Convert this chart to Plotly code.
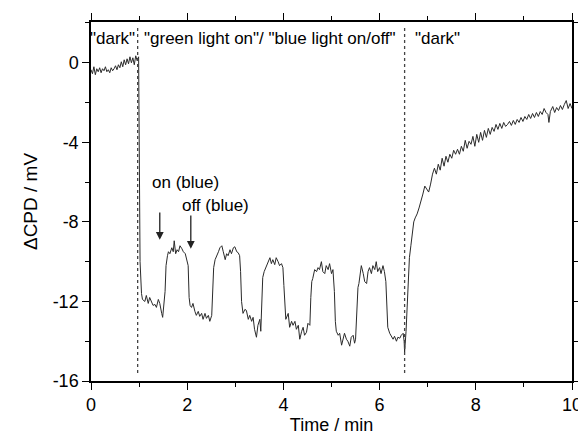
import plotly.graph_objects as go

# ---- data ----
time_dark1 = [0.00, 0.03, 0.06, 0.09, 0.12, 0.15, 0.18, 0.21, 0.24, 0.27, 0.30, 0.33, 0.36, 0.39, 0.42, 0.45,
              0.48, 0.51, 0.54, 0.57, 0.60, 0.63, 0.66, 0.69, 0.72, 0.75, 0.78, 0.81, 0.84, 0.87, 0.90, 0.93,
              0.96, 0.99]
cpd_dark1 = [-0.35, -0.55, -0.2, -0.6, -0.3, -0.45, -0.25, -0.5, -0.3, -0.4, -0.2, -0.45, -0.35, -0.5, -0.25, -0.4,
             -0.3, -0.15, -0.35, -0.1, -0.25, 0.05, -0.2, 0.15, -0.1, 0.2, -0.05, 0.3, 0.0, 0.25, -0.1, 0.35,
             0.1, 0.3]

time_light = [1.02, 1.035, 1.05, 1.07, 1.12, 1.15, 1.19, 1.22, 1.26, 1.29, 1.33, 1.36, 1.40, 1.43, 1.47, 1.49,
              1.54, 1.56, 1.59, 1.61, 1.64, 1.68, 1.71, 1.73, 1.76, 1.79, 1.82, 1.85, 1.89, 1.92, 1.96, 1.99,
              2.02, 2.04, 2.06, 2.09, 2.12, 2.16, 2.19, 2.23, 2.26, 2.30, 2.33, 2.37, 2.40, 2.44, 2.47, 2.51,
              2.53, 2.55, 2.58, 2.61, 2.65, 2.68, 2.72, 2.75, 2.79, 2.82, 2.85, 2.89, 2.92, 2.96, 2.99, 3.03,
              3.06, 3.09, 3.11, 3.13, 3.15, 3.16, 3.20, 3.23, 3.27, 3.30, 3.34, 3.37, 3.40, 3.44, 3.47, 3.51,
              3.53, 3.55, 3.57, 3.60, 3.65, 3.68, 3.72, 3.75, 3.78, 3.82, 3.85, 3.89, 3.92, 3.96, 3.99,
              4.01, 4.03, 4.05, 4.10, 4.13, 4.17, 4.20, 4.24, 4.27, 4.31, 4.34, 4.38, 4.41, 4.44, 4.48, 4.51,
              4.55, 4.57, 4.59, 4.61, 4.65, 4.69, 4.72, 4.75, 4.79, 4.82, 4.86, 4.89, 4.93, 4.96, 5.00, 5.03,
              5.06, 5.08, 5.10, 5.14, 5.17, 5.21, 5.24, 5.27, 5.31, 5.34, 5.38, 5.41, 5.45, 5.48, 5.50,
              5.53, 5.55, 5.57, 5.62, 5.66, 5.69, 5.73, 5.76, 5.79, 5.83, 5.86, 5.90, 5.93, 5.96, 6.00, 6.03,
              6.07, 6.10, 6.13, 6.15, 6.17, 6.21, 6.25, 6.28, 6.31, 6.35, 6.38, 6.42, 6.45, 6.49, 6.51, 6.52]
cpd_light = [-10.0, -11.0, -11.6, -11.9, -12.0, -11.7, -12.1, -11.8, -12.0, -12.2, -12.15, -12.3, -11.9, -12.1, -12.6, -12.8,
             -11.5, -10.2, -9.7, -9.5, -9.6, -9.3, -9.5, -8.95, -9.6, -9.4, -9.5, -9.2, -9.35, -9.5, -9.6, -9.85,
             -10.2, -11.8, -12.2, -12.3, -12.1, -12.5, -12.7, -12.5, -12.75, -12.6, -12.9, -12.6, -12.85, -12.7, -13.0, -12.7,
             -11.0, -10.3, -9.9, -9.75, -9.5, -9.3, -9.2, -9.5, -9.9, -9.6, -9.7, -9.4, -9.6, -9.3, -9.25, -9.5,
             -9.55, -9.7, -10.5, -12.0, -12.4, -12.6, -12.4, -12.45, -12.9, -12.7, -13.0, -12.8, -13.4, -13.8, -13.2, -12.9,
             -13.5, -11.5, -10.8, -10.5, -10.2, -10.0, -9.8, -10.1, -9.9, -10.15, -9.8, -10.0, -10.2, -10.1, -10.3,
             -11.2, -12.5, -12.9, -12.6, -13.3, -13.0, -13.2, -13.0, -13.4, -13.2, -13.9, -13.5, -13.3, -13.7, -13.55, -13.1,
             -13.2, -11.8, -11.0, -10.85, -10.4, -10.5, -10.3, -10.4, -10.0, -10.5, -10.6, -10.2, -10.4, -10.1, -10.6, -10.4,
             -11.5, -13.0, -13.5, -13.7, -13.6, -14.2, -13.8, -13.6, -13.9, -14.0, -14.25, -13.8, -13.7, -14.1, -13.9,
             -12.5, -11.3, -11.1, -10.2, -10.6, -11.0, -11.1, -10.5, -10.3, -10.6, -10.2, -10.4, -10.0, -10.5, -10.3, -10.6,
             -10.2, -10.5, -11.0, -12.5, -13.3, -13.6, -13.8, -13.9, -13.75, -14.0, -13.8, -13.85, -13.7, -13.6, -14.0, -14.55]

time_dark2 = [6.55, 6.58, 6.60, 6.62, 6.65, 6.68, 6.71, 6.74, 6.78, 6.82, 6.86, 6.90, 6.94, 6.98, 7.02, 7.06,
              7.10, 7.14, 7.18, 7.22, 7.26, 7.30, 7.34, 7.38, 7.42, 7.46, 7.50, 7.54, 7.58, 7.62, 7.66, 7.70,
              7.74, 7.78, 7.82, 7.86, 7.90, 7.94, 7.98, 8.02, 8.06, 8.10, 8.14, 8.18, 8.22, 8.26, 8.30, 8.34,
              8.38, 8.42, 8.46, 8.50, 8.54, 8.58, 8.62, 8.66, 8.70, 8.74, 8.78, 8.82, 8.86, 8.90, 8.94, 8.98,
              9.02, 9.06, 9.10, 9.14, 9.18, 9.22, 9.26, 9.30, 9.34, 9.38, 9.42, 9.46, 9.50, 9.52, 9.55, 9.60,
              9.64, 9.68, 9.72, 9.76, 9.80, 9.84, 9.88, 9.92, 9.96, 10.00]
cpd_dark2 = [-13.5, -12.0, -10.5, -9.8, -9.2, -8.6, -8.0, -7.8, -7.6, -7.3, -7.0, -6.6, -6.2, -6.35, -6.5, -6.1,
             -5.6, -5.3, -5.6, -5.1, -5.4, -4.8, -5.2, -4.7, -5.0, -4.6, -4.8, -4.4, -4.6, -4.35, -4.6, -4.2,
             -4.45, -3.9, -4.3, -3.95, -4.1, -3.7, -4.2, -3.6, -4.0, -3.5, -3.9, -3.4, -3.75, -3.3, -3.6, -3.25,
             -3.45, -3.1, -3.35, -3.05, -3.3, -3.0, -3.2, -3.1, -2.95, -3.15, -2.9, -3.1, -2.85, -3.0, -2.75, -2.95,
             -2.7, -2.85, -2.6, -2.8, -2.55, -2.75, -2.5, -2.7, -2.45, -2.6, -2.3, -2.5, -2.6, -3.0, -2.45, -2.2,
             -2.5, -2.25, -2.4, -2.15, -2.35, -2.1, -1.9, -2.3, -2.05, -2.3]

phase_boundaries = [0.97, 6.52]
x_ticks = [0, 2, 4, 6, 8, 10]
x_tick_labels = ["0", "2", "4", "6", "8", "10"]
y_ticks = [0, -4, -8, -12, -16]
y_tick_labels = ["0", "-4", "-8", "-12", "-16"]

phase_labels = ['"dark"', '"green light on"/ "blue light on/off"', '"dark"']
phase_label_x = [0.45, 3.72, 7.21]
phase_label_y = 1.2

arrow_labels = ["on (blue)", "off (blue)"]
arrow_label_x = [1.97, 2.58]
arrow_label_y = [-6.0, -7.2]
arrow_x = [1.43, 2.075]
arrow_tail_y = [-7.45, -7.6]
arrow_head_y = [-8.9, -9.35]

time = time_dark1 + time_light + time_dark2
cpd = cpd_dark1 + cpd_light + cpd_dark2

FONT = "Liberation Sans, Arial, sans-serif"

fig = go.Figure()
fig.add_trace(go.Scatter(x=time, y=cpd, mode="lines",
                         line=dict(color="#2a2a2a", width=1), showlegend=False,
                         hoverinfo="skip"))

for xb in phase_boundaries:
    fig.add_shape(type="line", xref="x", yref="y", x0=xb, x1=xb, y0=-15.6, y1=1.9,
                  line=dict(color="#444444", width=1.3, dash="dot"))

annotations = []
for txt, xx in zip(phase_labels, phase_label_x):
    annotations.append(dict(x=xx, y=phase_label_y, xref="x", yref="y", text=txt, showarrow=False,
                            font=dict(size=17, color="black", family=FONT)))
for txt, xx, yy in zip(arrow_labels, arrow_label_x, arrow_label_y):
    annotations.append(dict(x=xx, y=yy, xref="x", yref="y", text=txt, showarrow=False,
                            font=dict(size=17, color="black", family=FONT)))
for xa, yt, yh in zip(arrow_x, arrow_tail_y, arrow_head_y):
    annotations.append(dict(x=xa, y=yh, ax=xa, ay=yt, xref="x", yref="y", axref="x", ayref="y",
                            text="", showarrow=True, arrowhead=2, arrowsize=1.2, arrowwidth=1.3,
                            arrowcolor="#222222"))

# the page body adds an 8 px offset, so the figure is 8 px smaller each way
fig.update_layout(
    width=578, height=430,
    margin=dict(l=83, r=14, t=14, b=57),
    paper_bgcolor="white", plot_bgcolor="white",
    font=dict(family=FONT, size=18, color="black"),
    annotations=annotations,
    xaxis=dict(range=[0, 10], tickvals=x_ticks, ticktext=x_tick_labels, ticks="outside", ticklen=7,
               tickwidth=1.3, tickcolor="black", showline=True, linecolor="black", linewidth=1.5,
               mirror="ticks", showgrid=False, zeroline=False, automargin=False,
               minor=dict(dtick=1, ticks="outside", ticklen=4, tickwidth=1.2, tickcolor="black"),
               title=dict(text="Time / min", font=dict(size=18), standoff=4),
               tickfont=dict(size=18)),
    yaxis=dict(range=[-16, 2.05], tickvals=y_ticks, ticktext=y_tick_labels, ticks="outside", ticklen=7,
               tickwidth=1.3, tickcolor="black", showline=True, linecolor="black", linewidth=1.5,
               mirror="ticks", showgrid=False, zeroline=False, automargin=False,
               minor=dict(dtick=2, tick0=0, ticks="outside", ticklen=4, tickwidth=1.2, tickcolor="black"),
               title=dict(text="ΔCPD / mV", font=dict(size=19), standoff=10),
               tickfont=dict(size=18)),
)

fig.write_html("out.html")
